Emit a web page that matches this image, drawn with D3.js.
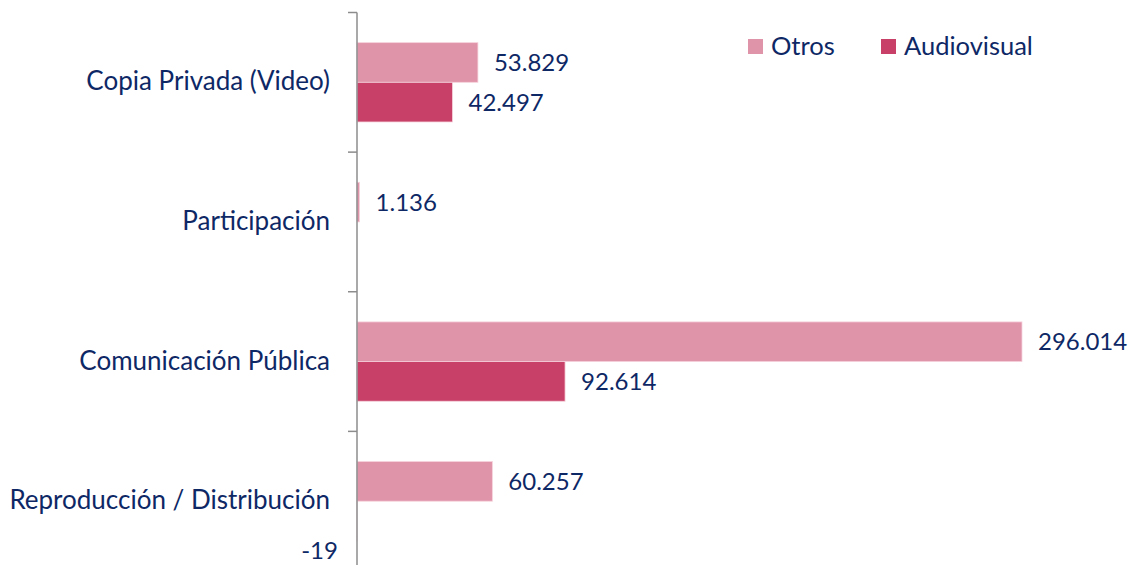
<!DOCTYPE html>
<html>
<head>
<meta charset="utf-8">
<script src="https://cdn.jsdelivr.net/npm/d3@7"></script>
<style>
  body { margin: 0; background: #fff; }
  svg { display: block; }
</style>
</head>
<body>
<svg id="chart"></svg>
<script>
// categories top to bottom, and one value list per series (thousands, Spanish format)
const categories = ["Copia Privada (Video)", "Participación", "Comunicación Pública", "Reproducción / Distribución"];
const seriesNames = ["Otros", "Audiovisual"];
const otros = [53829, 1136, 296014, 60257];
const audiovisual = [42497, 0, 92614, -19];
// which labels Excel shows (no label for the empty Audiovisual participación)
const showAudiovisual = [true, false, true, true];

const config = {
    width: 1133,
    height: 565,
    zeroX: 357,
    maxX: 1022,
    top: 12.5,
    bottom: 571,
    colors: ["#E094AA", "#C84068"],
    text: "#0E2866",
    font: "Lato, 'Open Sans', sans-serif",
    valueSize: 24,
    catSize: 26,
    legendSize: 25.5
};

const svg = d3.select("#chart")
    .attr("width", config.width)
    .attr("height", config.height)
    .attr("font-family", config.font);

const x = d3.scaleLinear()
    .domain([0, d3.max(otros)])
    .range([config.zeroX, config.maxX]);

const y = d3.scaleBand()
    .domain(categories)
    .range([config.top, config.bottom]);

const y1 = d3.scaleBand()
    .domain(seriesNames)
    .range([0, y.bandwidth()])
    .paddingOuter(0.76);

const fmt = v => d3.format(",")(v).replace(/,/g, ".").replace("\u2212", "-");

const rows = categories.map((c, i) => ({
    cat: c,
    values: [
        {name: "Otros", value: otros[i], show: true},
        {name: "Audiovisual", value: audiovisual[i], show: showAudiovisual[i]}
    ]
}));

// bars
const groups = svg.append("g")
    .selectAll("g")
    .data(rows)
    .join("g")
    .attr("transform", d => `translate(0,${y(d.cat)})`);

groups.selectAll("rect")
    .data(d => d.values)
    .join("rect")
    .attr("x", d => x(Math.min(0, d.value)))
    .attr("y", d => y1(d.name))
    .attr("width", d => Math.abs(x(d.value) - x(0)))
    .attr("height", y1.bandwidth())
    .attr("fill", (d, i) => config.colors[i])
    .attr("stroke", "#f6d3dc")
    .attr("stroke-width", 0.8);

// value labels
groups.selectAll("text")
    .data(d => d.values.filter(v => v.show))
    .join("text")
    .attr("x", d => d.value < 0 ? x(d.value) - 19 : x(d.value) + 16)
    .attr("y", d => y1(d.name) + y1.bandwidth() / 2 + (d.value < 0 ? 30 : 0))
    .attr("dy", "0.35em")
    .attr("text-anchor", d => d.value < 0 ? "end" : "start")
    .attr("font-size", config.valueSize)
    .attr("fill", config.text)
    .text(d => fmt(d.value));

// category axis
const yAxis = svg.append("g")
    .attr("transform", `translate(${config.zeroX},0)`)
    .call(d3.axisLeft(y).tickSize(0).tickFormat(""));
yAxis.select(".domain")
    .attr("d", `M0,${config.top}V${config.height}`)
    .attr("stroke", "#8c8c8c")
    .attr("stroke-width", 1.5);

const bounds = categories.map(c => y(c)).concat([config.bottom]);
yAxis.selectAll("line.bound")
    .data(bounds.filter(b => b < config.height))
    .join("line")
    .attr("class", "bound")
    .attr("x1", -9).attr("x2", 0)
    .attr("y1", d => d).attr("y2", d => d)
    .attr("stroke", "#8c8c8c")
    .attr("stroke-width", 1.5);

svg.append("g")
    .selectAll("text")
    .data(categories)
    .join("text")
    .attr("x", 330)
    .attr("y", d => y(d) + y.bandwidth() / 2 - 1)
    .attr("dy", "0.35em")
    .attr("text-anchor", "end")
    .attr("font-size", config.catSize)
    .attr("fill", config.text)
    .text(d => d);

// legend
const legendX = [748, 881];
const legend = svg.append("g")
    .selectAll("g")
    .data(seriesNames)
    .join("g")
    .attr("transform", (d, i) => `translate(${legendX[i]},39)`);
legend.append("rect")
    .attr("width", 15).attr("height", 15)
    .attr("fill", (d, i) => config.colors[i]);
legend.append("text")
    .attr("x", 23).attr("y", 7.5)
    .attr("dy", "0.35em")
    .attr("font-size", config.legendSize)
    .attr("fill", config.text)
    .text(d => d);
</script>
</body>
</html>
